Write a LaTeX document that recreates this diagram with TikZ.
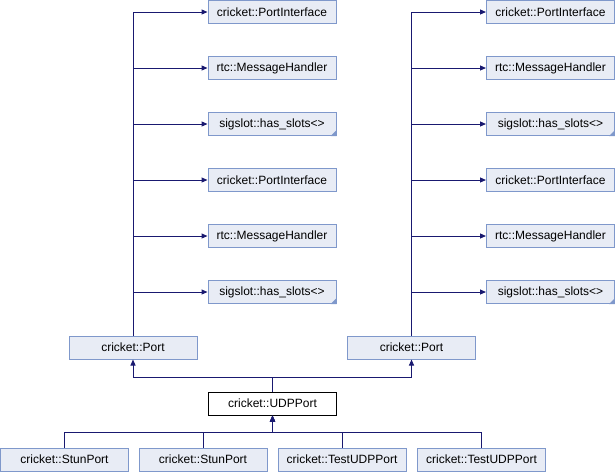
\documentclass[tikz,border=0pt]{standalone}
\usepackage{fontspec}
\setmainfont{Liberation Sans}
\usetikzlibrary{arrows.meta,calc}
\definecolor{boxfill}{HTML}{E8ECF5}
\definecolor{boxline}{HTML}{7F98CB}
\definecolor{edgeblue}{HTML}{191970}
\tikzset{
  cls/.style={draw=boxline, fill=boxfill, line width=1pt, minimum width=128pt,
    minimum height=23pt, inner sep=0pt, font=\fontsize{12}{14}\selectfont},
  focus/.style={cls, draw=black, fill=white},
  inherit/.style={draw=edgeblue, line width=1pt,
    -{Triangle[length=6pt,width=5pt]}},
  fold/.style={fill=boxline, draw=none}
}
\newcommand{\foldcorner}[1]{\fill[boxline] (#1.south east) -- ++(-6,0) -- ++(6,-6) -- cycle;}
\begin{document}
\begin{tikzpicture}[x=1pt,y=-1pt]
\useasboundingbox (0,0) rectangle (615,472);
% base classes, left column
\node[cls] (lA) at (272,12)  {cricket::PortInterface};
\node[cls] (lB) at (272,68)  {rtc::MessageHandler};
\node[cls] (lC) at (272,124) {sigslot::has\_slots<>};
\node[cls] (lD) at (272,180) {cricket::PortInterface};
\node[cls] (lE) at (272,236) {rtc::MessageHandler};
\node[cls] (lF) at (272,292) {sigslot::has\_slots<>};
% base classes, right column
\node[cls] (rA) at (550.5,12)  {cricket::PortInterface};
\node[cls] (rB) at (550.5,68)  {rtc::MessageHandler};
\node[cls] (rC) at (550.5,124) {sigslot::has\_slots<>};
\node[cls] (rD) at (550.5,180) {cricket::PortInterface};
\node[cls] (rE) at (550.5,236) {rtc::MessageHandler};
\node[cls] (rF) at (550.5,292) {sigslot::has\_slots<>};
% template markers
\foldcorner{lC}\foldcorner{lF}\foldcorner{rC}\foldcorner{rF}
% ports
\node[cls] (pL) at (133,347.5) {cricket::Port};
\node[cls] (pR) at (411.5,347.5) {cricket::Port};
\node[focus] (udp) at (272.5,403.5) {cricket::UDPPort};
% derived classes
\node[cls] (s1) at (64.5,459.5)  {cricket::StunPort};
\node[cls] (s2) at (203,459.5)   {cricket::StunPort};
\node[cls] (t1) at (342,459.5)   {cricket::TestUDPPort};
\node[cls] (t2) at (481.5,459.5) {cricket::TestUDPPort};
% port -> bases
\foreach \b in {lA,lB,lC,lD,lE,lF} \draw[inherit] (pL.north) |- (\b.west);
\foreach \b in {rA,rB,rC,rD,rE,rF} \draw[inherit] (pR.north) |- (\b.west);
% udp -> ports
\draw[inherit] (udp.north) -- (udp.north |- 0,377) -| (pL.south);
\draw[inherit] (udp.north) -- (udp.north |- 0,377) -| (pR.south);
% derived -> udp
\foreach \c in {s1,s2,t1,t2} \draw[inherit] (\c.north) -- (\c.north |- 0,432) -| (udp.south);
\end{tikzpicture}
\end{document}
